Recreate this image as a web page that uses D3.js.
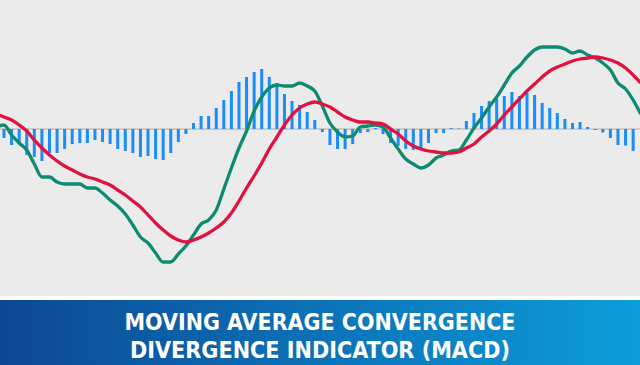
<!DOCTYPE html>
<html>
<head>
<meta charset="utf-8">
<script src="https://cdn.jsdelivr.net/npm/d3@7"></script>
<style>
  html, body { margin: 0; padding: 0; background: #ebebeb; }
  svg { display: block; }
</style>
</head>
<body>
<script>
"use strict";

const width = 640;
const height = 365;

// histogram (macd - signal), one bar per period
const histogram = [
  -9, -16, -15, -26, -28, -32, -24, -24, -20, -15,
  -14, -14, -11, -13, -15, -20, -22, -24, -28, -27,
  -30, -31, -24, -13, -5, 6, 13, 13, 21, 29,
  38, 47, 52, 57, 60, 52, 46, 35, 28, 24,
  17, 9, -3, -16, -20, -20, -15, -4, -3, 1,
  -5, -14, -17, -20, -21, -21, -14, -4, -4, 1,
  0.5, 8, 16, 23, 28, 30, 33, 37, 33, 36,
  34, 26, 21, 16, 10, 6, 7, 2, -1, -3.5,
  -9, -16, -16.5, -22
];

// macd line, starts one period before the first bar
const macdLine = [
  2, 4, -6, -14, -21, -35, -48, -48, -53, -55,
  -55, -55, -59, -59, -64, -71, -77, -85, -96, -108,
  -114, -124, -133, -133, -125, -117, -106, -95, -91, -81,
  -60, -39, -19, -2, 18, 32, 41, 44, 43, 43,
  46, 43, 38, 23, 6, -3, -8, -7, 2, 3,
  4, 2, -9, -20, -30, -35, -39, -36, -29, -26,
  -22, -21, -11, 1, 11, 22, 32, 44, 56, 63,
  72, 79, 82, 82, 82, 80, 76, 78, 74, 71,
  66, 59, 46, 40, 29, 15
];

// signal line, same periods as macdLine
const signalLine = [
  15, 12, 9, 4, -2, -11, -19, -26, -32, -37,
  -41, -45, -48, -50, -53, -56, -61, -66, -72, -78,
  -86, -94, -101, -107, -111, -113, -111, -108, -104, -99,
  -93, -84, -72, -59, -47, -34, -20, -8, 4, 14,
  21, 25, 27, 25, 22, 17, 12, 9, 7, 7,
  6, 5, 0, -5, -12, -17, -20, -22, -23, -24,
  -24, -23, -19, -15, -8, -2, 5, 14, 22, 30,
  38, 45, 52, 58, 62, 65, 68, 70, 71, 72,
  71, 69, 66, 61, 54, 46
];

const titleLines = ["MOVING AVERAGE CONVERGENCE", "DIVERGENCE INDICATOR (MACD)"];

const svg = d3.select("body").append("svg")
    .attr("width", width)
    .attr("height", height);

svg.append("rect")
    .attr("width", width)
    .attr("height", height)
    .attr("fill", "#ebebeb");

let x = d3.scaleLinear()
    .domain([0, 1])
    .range([4, 11.58]);

let y = d3.scaleLinear()
    .domain([-100, 100])
    .range([229, 29]);

// zero line
svg.append("line")
    .attr("x1", 0)
    .attr("x2", width)
    .attr("y1", y(0))
    .attr("y2", y(0))
    .attr("stroke", "#c9c1b4")
    .attr("stroke-width", 1.5);

// histogram bars
const barW = 3;
svg.selectAll("rect.bar")
    .data(histogram)
    .enter()
    .append("rect")
    .attr("class", "bar")
    .attr("x", (d, i) => x(i) - barW / 2)
    .attr("y", d => Math.min(y(d), y(0)))
    .attr("width", barW)
    .attr("height", d => Math.abs(y(d) - y(0)))
    .attr("fill", "#1b8cf8");

let line = d3.line()
    .x((d, i) => x(i - 1))
    .y(d => y(d))
    .curve(d3.curveMonotoneX);

svg.append("path")
    .datum(macdLine)
    .attr("d", line)
    .attr("fill", "none")
    .attr("stroke", "#0f8a72")
    .attr("stroke-width", 3.3)
    .attr("stroke-linejoin", "round");

svg.append("path")
    .datum(signalLine)
    .attr("d", line)
    .attr("fill", "none")
    .attr("stroke", "#e0123f")
    .attr("stroke-width", 3.3)
    .attr("stroke-linejoin", "round");

// title band
let grad = svg.append("defs").append("linearGradient")
    .attr("id", "band")
    .attr("x1", "0%").attr("x2", "100%")
    .attr("y1", "0%").attr("y2", "0%");
grad.append("stop").attr("offset", "0%").attr("stop-color", "#0d4793");
grad.append("stop").attr("offset", "100%").attr("stop-color", "#0c9ddb");

svg.append("rect")
    .attr("x", 0).attr("y", 296)
    .attr("width", width).attr("height", 4)
    .attr("fill", "#ffffff");

svg.append("rect")
    .attr("x", 0).attr("y", 300)
    .attr("width", width).attr("height", height - 300)
    .attr("fill", "url(#band)");

// two-line title
const lens = [391, 380];
svg.selectAll("text.title")
    .data(titleLines)
    .enter()
    .append("text")
    .attr("class", "title")
    .attr("x", width / 2)
    .attr("y", (d, i) => 330 + i * 27.5)
    .attr("text-anchor", "middle")
    .attr("textLength", (d, i) => lens[i])
    .attr("lengthAdjust", "spacingAndGlyphs")
    .attr("fill", "#ffffff")
    .style("font-family", "'Liberation Sans Narrow', 'DejaVu Sans Condensed', sans-serif")
    .style("font-weight", "bold")
    .style("font-size", "23px")
    .text(d => d);

</script>
</body>
</html>
